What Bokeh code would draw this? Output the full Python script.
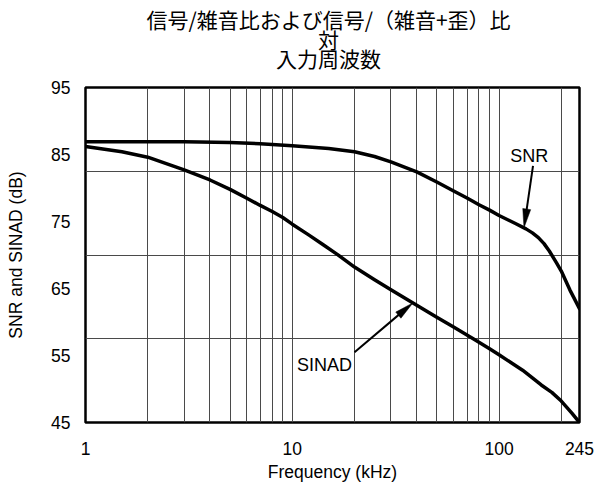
import numpy as np
from bokeh.plotting import figure
from bokeh.layouts import column
from bokeh.models import FixedTicker, Range1d, NumeralTickFormatter
from bokeh.core.properties import value
from bokeh.embed import file_html
from bokeh.resources import INLINE

# ---- chart text -------------------------------------------------------------
TITLE_LINES = ["信号/雑音比および信号/（雑音+歪）比", "対", "入力周波数"]
X_LABEL = "Frequency (kHz)"
Y_LABEL = "SNR and SINAD (dB)"

# ---- series (frequency in kHz, level in dB) ---------------------------------
SNR_FREQ_KHZ = [1, 2, 3, 5, 7, 10, 15, 20, 25, 30, 40, 50, 60, 70, 80, 90,
                100, 120, 135, 145, 155, 165, 175, 190, 200, 220, 245]
SNR_DB = [86.9, 86.9, 86.9, 86.8, 86.6, 86.3, 85.9, 85.4, 84.7, 83.9, 82.4,
          80.9, 79.6, 78.5, 77.5, 76.7, 75.9, 74.7, 73.9, 73.3, 72.6, 71.7,
          70.6, 68.8, 67.6, 64.8, 62.0]

SINAD_FREQ_KHZ = [1, 1.5, 2, 3, 4, 5, 6, 7, 8, 9, 10, 12, 14, 16.5, 20, 25, 30,
                  40, 50, 60, 75, 90, 100, 130, 160, 180, 200, 225, 245]
SINAD_DB = [86.2, 85.4, 84.6, 82.7, 81.2, 79.8, 78.5, 77.4, 76.5, 75.6, 74.6,
            73.0, 71.6, 70.1, 68.2, 66.3, 64.8, 62.5, 60.7, 59.3, 57.5, 56.0,
            55.1, 52.8, 50.6, 49.5, 48.2, 46.4, 45.0]

# ---- axes -------------------------------------------------------------------
X_MIN, X_MAX = 1, 245
Y_MIN, Y_MAX = 45, 95
X_TICKS = [1, 10, 100, 245]
Y_TICKS = [45, 55, 65, 75, 85, 95]
X_GRID = [2, 3, 4, 5, 6, 7, 8, 9, 10, 20, 30, 40, 50, 60, 70, 80, 90, 100, 200]
Y_GRID = [57.5, 70, 82.5]

# ---- callouts: label (text, kHz, dB), arrow tail (kHz, dB), tip frequency ----
SNR_LABEL = ("SNR", 140.0, 84.8)
SNR_ARROW_TAIL = (146.0, 83.3)
SNR_ARROW_TIP_KHZ = 132.0
SINAD_LABEL = ("SINAD", 14.3, 53.6)
SINAD_ARROW_TAIL = (20.0, 55.5)
SINAD_ARROW_TIP_KHZ = 38.3

# ---- layout -----------------------------------------------------------------
W = 595
TITLE_H = 74
MAIN_H = 412
BORDER_L, BORDER_R, BORDER_T, BORDER_B = 85, 16, 13, 64
FW = W - BORDER_L - BORDER_R
FH = MAIN_H - BORDER_T - BORDER_B
TITLE_CX = 328
TITLE_FIRST = 18.5
TITLE_PITCH = 19.7

LATIN = value("Liberation Sans")
CJK = value("Noto Sans CJK JP")
FONT_PX = "17.5px"

LOG_SPAN = np.log10(X_MAX / X_MIN)


def to_px(f, db):
    return (np.log10(f / X_MIN) / LOG_SPAN * FW,
            (db - Y_MIN) / (Y_MAX - Y_MIN) * FH)


def from_px(x, y):
    return (X_MIN * 10 ** (x / FW * LOG_SPAN),
            Y_MIN + y / FH * (Y_MAX - Y_MIN))


def on_curve(freqs, dbs, f):
    return float(np.interp(np.log10(f), np.log10(freqs), dbs))


def draw_arrow(p, tail, tip, head_len=19.0, head_w=8.0):
    sx, sy = to_px(*tail)
    tx, ty = to_px(*tip)
    d = np.hypot(tx - sx, ty - sy)
    ux, uy = (tx - sx) / d, (ty - sy) / d
    bx, by = tx - head_len * ux, ty - head_len * uy
    nx, ny = -uy, ux
    corners = [(tx, ty),
               (bx + nx * head_w / 2, by + ny * head_w / 2),
               (bx - nx * head_w / 2, by - ny * head_w / 2)]
    pts = [from_px(x, y) for x, y in corners]
    p.patch([q[0] for q in pts], [q[1] for q in pts],
            fill_color="black", line_color="black", line_width=0.5)
    shaft_end = from_px(bx + 2 * ux, by + 2 * uy)
    p.line([tail[0], shaft_end[0]], [tail[1], shaft_end[1]],
           line_color="black", line_width=2)


# ---- title block ------------------------------------------------------------
# The column lines up this block's frame with the chart frame below it, so the
# x range spans the same pixel columns as that frame (x in page pixels).
tp = figure(width=W, height=TITLE_H, x_range=Range1d(BORDER_L, W - BORDER_R),
            y_range=Range1d(0, TITLE_H), output_backend="svg",
            toolbar_location=None, x_axis_location=None,
            y_axis_location=None, min_border=0)
tp.grid.visible = False
tp.outline_line_color = None
tp.text(x=[TITLE_CX] * len(TITLE_LINES),
        y=[TITLE_H - TITLE_FIRST - TITLE_PITCH * i
           for i in range(len(TITLE_LINES))],
        text=TITLE_LINES, text_font=CJK, text_font_size="21px",
        text_align="center", text_baseline="middle", text_color="black")

# ---- main chart -------------------------------------------------------------
p = figure(width=W, height=MAIN_H, x_axis_type="log",
           x_range=Range1d(X_MIN, X_MAX), y_range=Range1d(Y_MIN, Y_MAX),
           output_backend="svg", toolbar_location=None,
           min_border_left=BORDER_L, min_border_right=BORDER_R,
           min_border_top=BORDER_T, min_border_bottom=BORDER_B,
           x_axis_label=X_LABEL, y_axis_label=Y_LABEL)

p.background_fill_color = "white"
p.border_fill_color = "white"
p.outline_line_color = "black"
p.outline_line_width = 2.5
p.outline_line_alpha = 1.0

p.xaxis.ticker = FixedTicker(ticks=X_TICKS)
p.xaxis.formatter = NumeralTickFormatter(format="0")
p.yaxis.ticker = FixedTicker(ticks=Y_TICKS)

for ax in (p.xaxis, p.yaxis):
    ax.axis_line_color = None
    ax.major_tick_line_color = None
    ax.minor_tick_line_color = None
    ax.major_tick_in = 0
    ax.major_tick_out = 0
    ax.minor_tick_in = 0
    ax.minor_tick_out = 0
    ax.major_label_text_font = "Liberation Sans"
    ax.major_label_text_font_size = FONT_PX
    ax.major_label_text_color = "black"
    ax.axis_label_text_font = "Liberation Sans"
    ax.axis_label_text_font_size = FONT_PX
    ax.axis_label_text_font_style = "normal"
    ax.axis_label_text_color = "black"

p.xaxis.major_label_standoff = 19
p.xaxis.axis_label_standoff = 4
p.yaxis.major_label_standoff = 15
p.yaxis.axis_label_standoff = 22

p.xgrid.ticker = FixedTicker(ticks=X_GRID)
p.ygrid.ticker = FixedTicker(ticks=Y_GRID)
for g in (p.xgrid, p.ygrid):
    g.grid_line_color = "#4a4a4a"
    g.grid_line_width = 1
    g.grid_line_alpha = 1.0

p.line(SNR_FREQ_KHZ, SNR_DB, line_color="black", line_width=3.5,
       line_join="round", line_cap="round")
p.line(SINAD_FREQ_KHZ, SINAD_DB, line_color="black", line_width=3.5,
       line_join="round", line_cap="round")

snr_tip = (SNR_ARROW_TIP_KHZ,
           on_curve(SNR_FREQ_KHZ, SNR_DB, SNR_ARROW_TIP_KHZ))
sinad_tip = (SINAD_ARROW_TIP_KHZ,
             on_curve(SINAD_FREQ_KHZ, SINAD_DB, SINAD_ARROW_TIP_KHZ))
draw_arrow(p, SNR_ARROW_TAIL, snr_tip)
draw_arrow(p, SINAD_ARROW_TAIL, sinad_tip)

p.text(x=[SNR_LABEL[1], SINAD_LABEL[1]], y=[SNR_LABEL[2], SINAD_LABEL[2]],
       text=[SNR_LABEL[0], SINAD_LABEL[0]], text_font=LATIN,
       text_font_size="18px", text_align="center", text_baseline="middle",
       text_color="black")

layout = column(tp, p, spacing=0)
open("out.html", "w").write(file_html(layout, INLINE))
